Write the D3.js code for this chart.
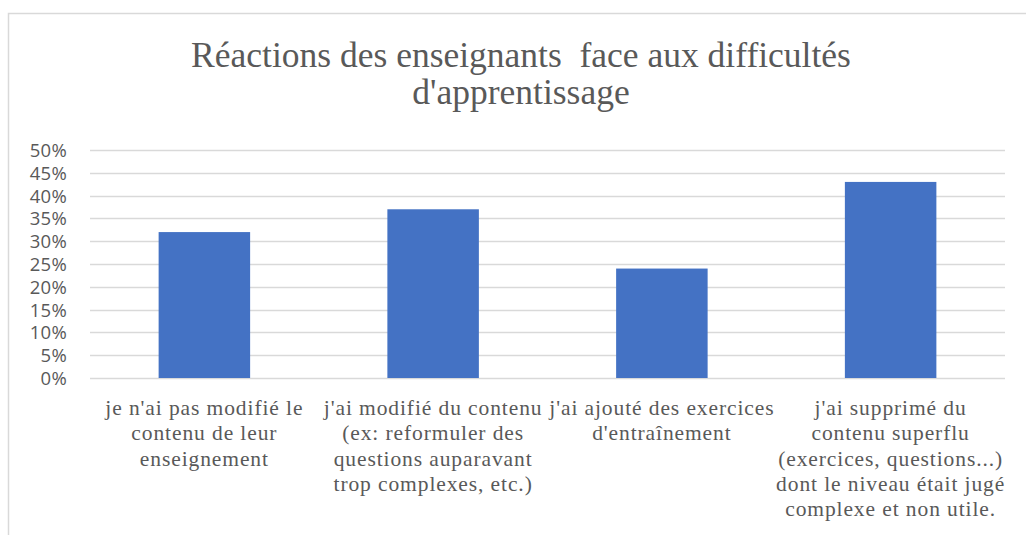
<!DOCTYPE html>
<html>
<head>
<meta charset="utf-8">
<script src="https://cdn.jsdelivr.net/npm/d3@7"></script>
<style>
  body { margin: 0; background: #fff; }
  .y-axis text { font-family: 'Open Sans', 'Noto Sans', sans-serif; font-size: 18.5px; letter-spacing: 0.3px; fill: #595959; }
  .cat-label { font-family: 'Liberation Serif', serif; font-size: 21.5px; letter-spacing: 0.9px; fill: #595959; }
  .title { font-family: 'Liberation Serif', serif; font-size: 35.5px; fill: #595959; }
</style>
</head>
<body>
<div class="container"></div>
<script>
const categories = ['c1', 'c2', 'c3', 'c4'];
const values = [0.32, 0.37, 0.24, 0.43];
const labelLines = [
  ["je n'ai pas modifié le", 'contenu de leur', 'enseignement'],
  ["j'ai modifié du contenu", '(ex: reformuler des', 'questions auparavant', 'trop complexes, etc.)'],
  ["j'ai ajouté des exercices", "d'entraînement"],
  ["j'ai supprimé du", 'contenu superflu', '(exercices, questions...)', 'dont le niveau était jugé', 'complexe et non utile.']
];
const yTicks = [0, 0.05, 0.1, 0.15, 0.2, 0.25, 0.3, 0.35, 0.4, 0.45, 0.5];
const titleLines = ['Réactions des enseignants  face aux difficultés', "d'apprentissage"];

const width = 1026;
const height = 535;
const plot = { left: 90, right: 1005, top: 150, bottom: 378 };

const svg = d3
  .select('.container')
  .append('svg')
  .attr('width', width)
  .attr('height', height);

// chart frame (runs off the right and bottom edge)
svg
  .append('rect')
  .attr('x', 8.5)
  .attr('y', 13.5)
  .attr('width', 1040)
  .attr('height', 560)
  .attr('fill', 'none')
  .attr('stroke', '#d9d9d9')
  .attr('stroke-width', 1.5);

const x = d3
  .scaleBand()
  .domain(categories)
  .range([plot.left, plot.right])
  .paddingInner(0.6)
  .paddingOuter(0.3);

const y = d3
  .scaleLinear()
  .domain([0, 0.5])
  .range([plot.bottom, plot.top]);

// title
svg
  .append('text')
  .attr('class', 'title')
  .attr('text-anchor', 'middle')
  .style('white-space', 'pre')
  .selectAll('tspan')
  .data(titleLines)
  .enter()
  .append('tspan')
  .attr('x', 521)
  .attr('y', (d, i) => 67 + i * 37)
  .text(d => d);

// gridlines
svg
  .append('g')
  .selectAll('line')
  .data(yTicks)
  .enter()
  .append('line')
  .attr('x1', plot.left)
  .attr('x2', plot.right)
  .attr('y1', d => Math.round(y(d)) + 0.5)
  .attr('y2', d => Math.round(y(d)) + 0.5)
  .attr('stroke', '#d9d9d9')
  .attr('stroke-width', 1.5);

// y axis labels
const yAxis = svg
  .append('g')
  .attr('class', 'y-axis')
  .attr('transform', `translate(${plot.left}, 0)`)
  .call(d3.axisLeft(y).tickValues(yTicks).tickFormat(d3.format('.0%')).tickSize(0).tickPadding(23));
yAxis.select('.domain').remove();
yAxis.selectAll('text').attr('dy', '0.35em');

// bars
svg
  .append('g')
  .selectAll('rect')
  .data(values)
  .enter()
  .append('rect')
  .attr('x', (d, i) => x(categories[i]))
  .attr('width', x.bandwidth())
  .attr('y', d => y(d))
  .attr('height', d => y(0) - y(d))
  .attr('fill', '#4472c4');

// category labels
const labels = svg
  .append('g')
  .selectAll('text')
  .data(labelLines)
  .enter()
  .append('text')
  .attr('class', 'cat-label')
  .attr('text-anchor', 'middle');

labels
  .selectAll('tspan')
  .data((d, i) => d.map(line => ({ line, i })))
  .enter()
  .append('tspan')
  .attr('x', d => x(categories[d.i]) + x.bandwidth() / 2)
  .attr('y', (d, j) => 415 + j * 25.3)
  .text(d => d.line);
</script>
</body>
</html>
